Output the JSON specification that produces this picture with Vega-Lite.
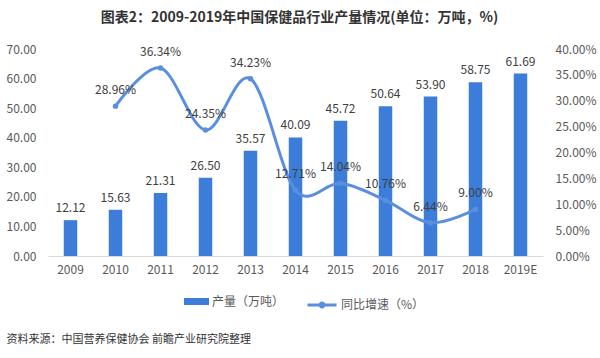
{
  "$schema": "https://vega.github.io/schema/vega-lite/v6.json",
  "width": 495,
  "height": 207,
  "autosize": {"type": "none"},
  "padding": {"left": 48, "top": 49, "right": 57, "bottom": 102},
  "background": "white",
  "config": {
    "view": {"stroke": null},
    "font": "Noto Sans CJK SC",
    "axis": {"labelFont": "Noto Sans CJK SC", "titleFont": "Noto Sans CJK SC", "labelOverlap": false},
    "legend": {"labelFont": "Noto Sans CJK SC"}
  },
  "title": {
    "text": "图表2：2009-2019年中国保健品行业产量情况(单位：万吨，%)",
    "fontSize": 14,
    "fontWeight": "bold",
    "color": "#333333",
    "anchor": "middle",
    "frame": "group",
    "dx": 4,
    "offset": 18
  },
  "data": {
    "values": [
      {"year": "2009", "output": 12.12, "growth": null},
      {"year": "2010", "output": 15.63, "growth": 0.2896},
      {"year": "2011", "output": 21.31, "growth": 0.3634},
      {"year": "2012", "output": 26.50, "growth": 0.2435},
      {"year": "2013", "output": 35.57, "growth": 0.3423},
      {"year": "2014", "output": 40.09, "growth": 0.1271},
      {"year": "2015", "output": 45.72, "growth": 0.1404},
      {"year": "2016", "output": 50.64, "growth": 0.1076},
      {"year": "2017", "output": 53.90, "growth": 0.0644},
      {"year": "2018", "output": 58.75, "growth": 0.0900},
      {"year": "2019E", "output": 61.69, "growth": null}
    ]
  },
  "encoding": {
    "x": {
      "field": "year",
      "type": "nominal",
      "sort": null,
      "scale": {"paddingInner": 0.7, "paddingOuter": 0.35},
      "axis": {
        "labelAngle": 0,
        "labelFontSize": 12,
        "labelColor": "#595959",
        "labelPadding": 8,
        "ticks": false,
        "domainColor": "#d9d9d9",
        "domainWidth": 1,
        "title": "资料来源：中国营养保健协会 前瞻产业研究院整理",
        "titleX": -42,
        "titleY": 83,
        "titleAlign": "left",
        "titleAnchor": "start",
        "titleBaseline": "middle",
        "titleFontSize": 11,
        "titleFontWeight": "normal",
        "titleColor": "#333333"
      }
    }
  },
  "layer": [
    {
      "encoding": {
        "y": {
          "field": "output",
          "type": "quantitative",
          "scale": {"domain": [0, 70]},
          "axis": {
            "values": [0, 10, 20, 30, 40, 50, 60, 70],
            "tickCount": 8,
            "format": ".2f",
            "labelFontSize": 12,
            "labelColor": "#595959",
            "labelPadding": 12,
            "labelOverlap": false,
            "ticks": false,
            "domain": false,
            "grid": false,
            "title": null
          }
        }
      },
      "layer": [
        {
          "mark": {"type": "bar"},
          "encoding": {
            "fill": {
              "datum": "产量（万吨）",
              "type": "nominal",
              "scale": {"range": ["#3b7dd8"]},
              "legend": {
                "orient": "none",
                "legendX": 136,
                "legendY": 240,
                "title": null,
                "symbolType": "M-1,-0.28H1V0.28H-1Z",
                "symbolSize": 625,
                "symbolStrokeWidth": 0,
                "labelFontSize": 12,
                "labelColor": "#595959",
                "labelOffset": 3,
                "padding": 0
              }
            }
          }
        },
        {
          "mark": {"type": "text", "baseline": "bottom", "dy": -5, "fontSize": 12, "color": "#404040"},
          "encoding": {
            "text": {"field": "output", "type": "quantitative", "format": ".2f"}
          }
        }
      ]
    },
    {
      "transform": [{"filter": "datum.growth != null"}],
      "encoding": {
        "y": {
          "field": "growth",
          "type": "quantitative",
          "scale": {"domain": [0, 0.4]},
          "axis": {
            "orient": "right",
            "values": [0, 0.05, 0.1, 0.15, 0.2, 0.25, 0.3, 0.35, 0.4],
            "tickCount": 9,
            "format": ".2%",
            "labelFontSize": 12,
            "labelColor": "#595959",
            "labelPadding": 12,
            "labelOverlap": false,
            "ticks": false,
            "domain": false,
            "grid": false,
            "title": null
          }
        }
      },
      "layer": [
        {
          "mark": {"type": "line", "interpolate": "cardinal", "strokeWidth": 3},
          "encoding": {
            "stroke": {
              "datum": "同比增速（%）",
              "type": "nominal",
              "scale": {"range": ["#5a8fe0"]},
              "legend": {
                "orient": "none",
                "legendX": 258,
                "legendY": 240,
                "title": null,
                "symbolType": "M-1,0H1M-0.13,0A0.13,0.13 0 1,1 0.13,0A0.13,0.13 0 1,1 -0.13,0Z",
                "symbolSize": 841,
                "symbolStrokeWidth": 3,
                "symbolFillColor": "#5a8fe0",
                "labelFontSize": 12,
                "labelColor": "#595959",
                "labelOffset": 3,
                "padding": 0
              }
            }
          }
        },
        {
          "mark": {"type": "point", "filled": true, "size": 30, "color": "#5a8fe0", "opacity": 1}
        },
        {
          "mark": {"type": "text", "baseline": "bottom", "dy": -9, "fontSize": 12, "color": "#404040"},
          "encoding": {
            "text": {"field": "growth", "type": "quantitative", "format": ".2%"}
          }
        }
      ]
    }
  ],
  "resolve": {"scale": {"y": "independent", "fill": "independent", "stroke": "independent"}}
}
